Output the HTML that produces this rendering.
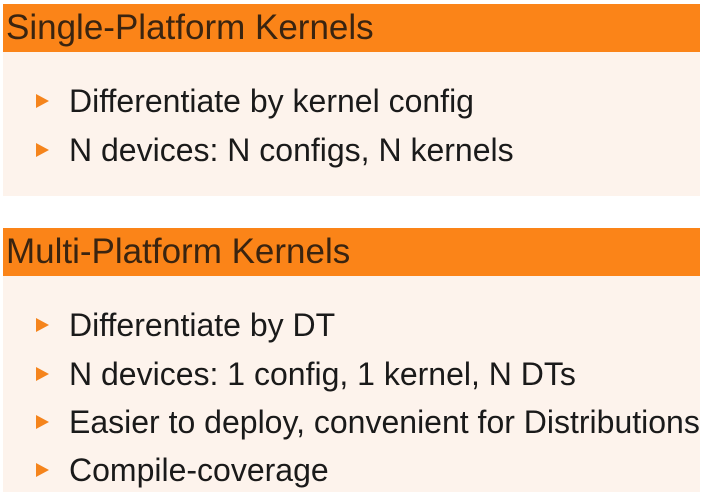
<!DOCTYPE html>
<html><head><meta charset="utf-8"><style>
body{margin:0;width:710px;height:500px;background:#fff;position:relative;overflow:hidden;font-family:"Liberation Sans",sans-serif;}
.h{position:absolute;left:3px;width:697px;background:#fb8418;color:#3a2410;font-size:35px;line-height:48px;padding-left:3px;box-sizing:border-box;white-space:nowrap;}
.b{position:absolute;left:3px;width:697px;background:#fdf3ec;}
.t{position:absolute;left:69px;font-size:32px;color:#1a1a1a;line-height:34px;white-space:nowrap;}
.a{position:absolute;left:36px;width:0;height:0;border-left:13px solid #f5841c;border-top:7px solid transparent;border-bottom:7px solid transparent;}
</style></head><body>
<div class="h" style="top:4px;">Single-Platform Kernels</div>
<div class="b" style="top:52px;height:144px;"></div>
<div class="a" style="top:94px"></div><div class="t" style="top:84px">Differentiate by kernel config</div>
<div class="a" style="top:143px"></div><div class="t" style="top:133px">N devices: N configs, N kernels</div>
<div class="h" style="top:228px;">Multi-Platform Kernels</div>
<div class="b" style="top:276px;height:216px;"></div>
<div class="a" style="top:318px"></div><div class="t" style="top:308px">Differentiate by DT</div>
<div class="a" style="top:367px"></div><div class="t" style="top:357px">N devices: 1 config, 1 kernel, N DTs</div>
<div class="a" style="top:415px"></div><div class="t" style="top:405px">Easier to deploy, convenient for Distributions</div>
<div class="a" style="top:463px"></div><div class="t" style="top:453px">Compile-coverage</div>
</body></html>
